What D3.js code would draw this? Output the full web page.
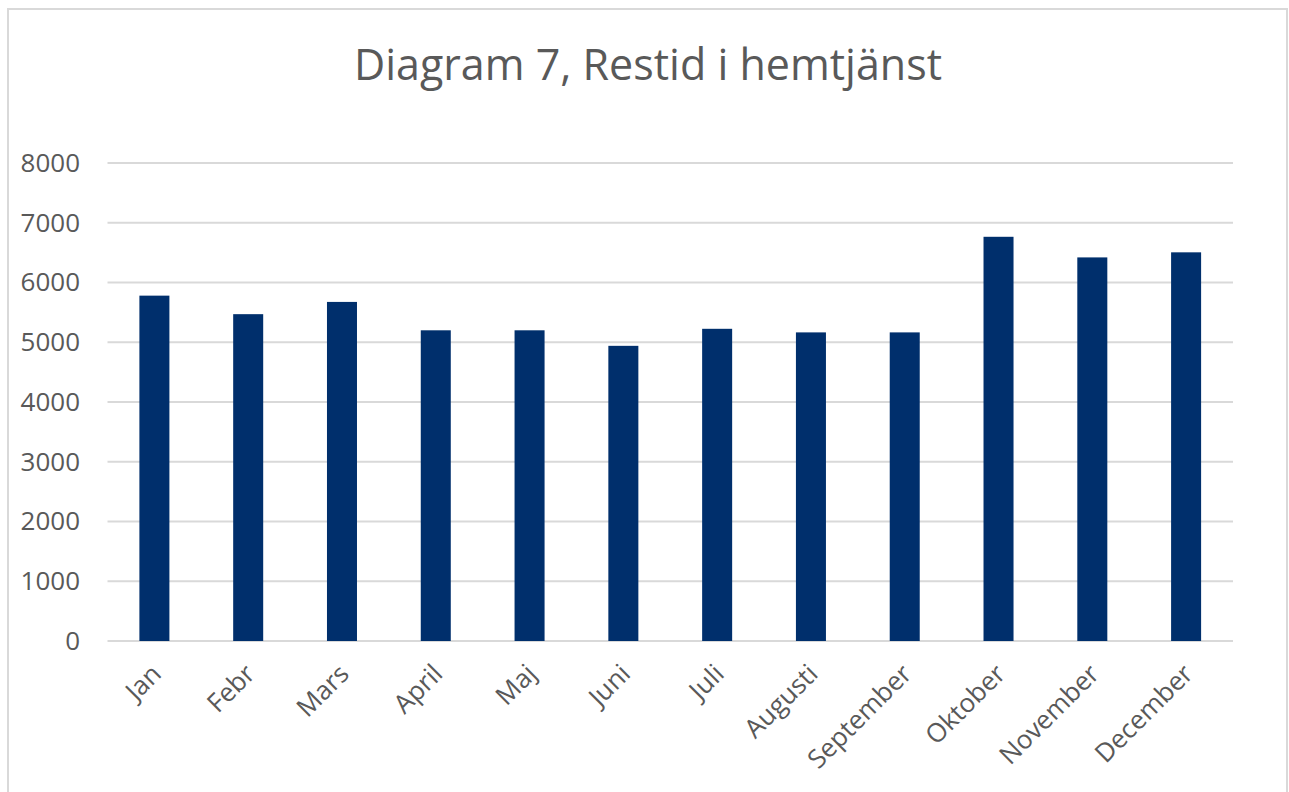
<!DOCTYPE html>
<html>
<head>
<meta charset="utf-8">
<script src="https://cdn.jsdelivr.net/npm/d3@7"></script>
<style>
  html, body { margin: 0; padding: 0; background: #fff; }
  svg { display: block; }
  text { font-family: "Open Sans", "Noto Sans", sans-serif; fill: #595959; }
</style>
</head>
<body>
<svg id="chart" width="1289" height="792"></svg>
<script>
const title = "Diagram 7, Restid i hemtjänst";
const categories = ["Jan", "Febr", "Mars", "April", "Maj", "Juni", "Juli", "Augusti", "September", "Oktober", "November", "December"];
const values = [5780, 5470, 5675, 5200, 5200, 4940, 5225, 5165, 5165, 6765, 6420, 6505];
const yTicks = [0, 1000, 2000, 3000, 4000, 5000, 6000, 7000, 8000];

const W = 1289, H = 792;
const margin = { left: 107.5, right: 56, top: 163, bottom: 151 };
const svg = d3.select("#chart");

// outer border
svg.append("rect")
  .attr("x", 8).attr("y", 9)
  .attr("width", 1279).attr("height", 800)
  .attr("fill", "#fff")
  .attr("stroke", "#d9d9d9").attr("stroke-width", 2);

const x = d3.scaleBand()
  .domain(categories)
  .range([margin.left, W - margin.right])
  .paddingInner(0.68)
  .paddingOuter(0.34);

const y = d3.scaleLinear()
  .domain([0, 8000])
  .range([H - margin.bottom, margin.top]);

// gridlines
svg.append("g")
  .selectAll("line")
  .data(yTicks)
  .join("line")
  .attr("x1", margin.left).attr("x2", W - margin.right)
  .attr("y1", d => y(d)).attr("y2", d => y(d))
  .attr("stroke", "#d9d9d9").attr("stroke-width", 2);

// y axis labels
const yAxis = d3.axisLeft(y).tickValues(yTicks).tickSize(0).tickPadding(0).tickFormat(d3.format("d"));
const gy = svg.append("g").attr("transform", `translate(80,0)`).call(yAxis);
gy.select(".domain").remove();
gy.selectAll("text")
  .attr("font-size", 26)
  .attr("fill", "#595959")
  .style("font-family", '"Open Sans", sans-serif');

// bars
svg.append("g")
  .selectAll("rect")
  .data(values)
  .join("rect")
  .attr("x", (d, i) => x(categories[i]))
  .attr("width", x.bandwidth())
  .attr("y", d => y(d))
  .attr("height", d => y(0) - y(d))
  .attr("fill", "#002f6c");

// x axis labels
const xAxis = d3.axisBottom(x).tickSize(0).tickPadding(0);
const gx = svg.append("g").attr("transform", `translate(0,${y(0)})`).call(xAxis);
gx.select(".domain").remove();
gx.selectAll("text")
  .attr("font-size", 26)
  .attr("fill", "#595959")
  .style("font-family", '"Open Sans", sans-serif')
  .attr("text-anchor", "end")
  .attr("dy", "0.35em")
  .attr("transform", "translate(2,28) rotate(-45)");

// title
svg.append("text")
  .attr("x", 648).attr("y", 80)
  .attr("text-anchor", "middle")
  .attr("font-size", 43)
  .attr("fill", "#595959")
  .text(title);
</script>
</body>
</html>
